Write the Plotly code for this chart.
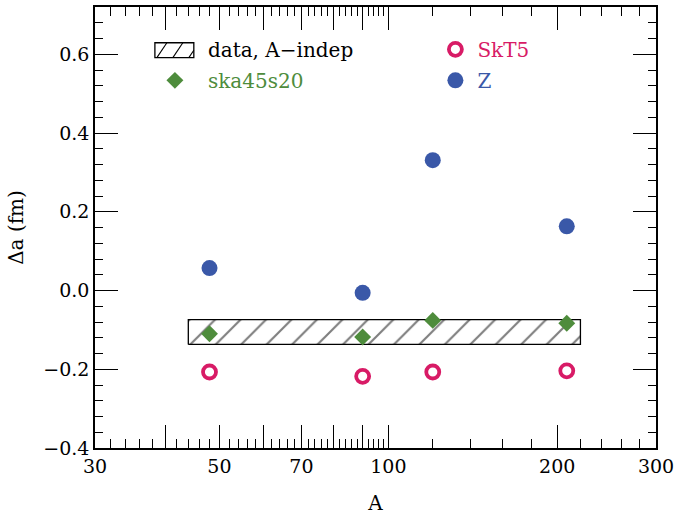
import plotly.graph_objects as go

# ---- data ----
A_nuclei = [48, 90, 120, 208]
skt5 = [-0.207, -0.218, -0.207, -0.204]
ska45s20 = [-0.110, -0.118, -0.076, -0.083]
z_vals = [0.057, -0.006, 0.331, 0.163]

band_A = [44, 220]
band_lo = -0.137
band_hi = -0.074

x_major = [30, 40, 50, 60, 70, 80, 90, 100, 200, 300]
x_major_text = ["30", "", "50", "", "70", "", "", "100", "200", "300"]
x_minor = [v for v in range(32, 100, 2) if v not in x_major] + \
          [v for v in range(120, 300, 20) if v not in x_major]
y_major = [-0.4, -0.2, 0.0, 0.2, 0.4, 0.6]

SERIF = "DejaVu Serif"
GREEN = "#4e8c3c"
BLUE = "#3a58a8"
MAGENTA = "#d81b66"

W, H = 679, 516
ML, MR, MT, MB = 95, 22, 5, 67
PW, PH = W - ML - MR, H - MT - MB


def px(x):
    return (x - ML) / PW


def py(y):
    return (H - MB - y) / PH


fig = go.Figure()

fig.add_trace(go.Scatter(
    x=[band_A[0], band_A[1], band_A[1], band_A[0], band_A[0]],
    y=[band_lo, band_lo, band_hi, band_hi, band_lo],
    mode="lines", fill="toself",
    fillcolor="white",
    fillpattern=dict(shape="/", fgcolor="black", bgcolor="white", size=18, solidity=0.12),
    line=dict(color="black", width=1.3),
    showlegend=False, hoverinfo="skip"))

# legend-only entry for the band (symbol drawn as shapes below)
fig.add_trace(go.Scatter(
    x=[None], y=[None], mode="markers",
    marker=dict(size=1, color="rgba(0,0,0,0)"),
    name="data, A\u2212indep", legend="legend", legendgroup="g1"))

fig.add_trace(go.Scatter(
    x=A_nuclei, y=skt5, mode="markers",
    marker=dict(symbol="circle-open", size=13, color=MAGENTA, line=dict(width=3.8, color=MAGENTA)),
    name=f"<span style='color:{MAGENTA}'>SkT5</span>", legend="legend2", legendgroup="g3"))

fig.add_trace(go.Scatter(
    x=A_nuclei, y=ska45s20, mode="markers",
    marker=dict(symbol="diamond", size=13, color=GREEN),
    name=f"<span style='color:{GREEN}'>ska45s20</span>", legend="legend", legendgroup="g2"))

fig.add_trace(go.Scatter(
    x=A_nuclei, y=z_vals, mode="markers",
    marker=dict(symbol="circle", size=16, color=BLUE),
    name=f"<span style='color:{BLUE}'>Z</span>", legend="legend2", legendgroup="g4"))

axis_common = dict(
    showline=True, linecolor="black", linewidth=1.5, mirror="ticks",
    ticks="inside", tickcolor="black", tickwidth=1.2, ticklen=23,
    showgrid=False, zeroline=False,
    tickfont=dict(family=SERIF, size=19, color="black"),
)

fig.update_xaxes(
    type="log", range=[1.4771213, 2.4771213],
    tickmode="array", tickvals=x_major, ticktext=x_major_text,
    minor=dict(tickmode="array", tickvals=x_minor, ticks="inside", ticklen=9,
               tickcolor="black", tickwidth=1.2, showgrid=False),
    title=dict(text="A", font=dict(family=SERIF, size=20, color="black"), standoff=20),
    **axis_common)

fig.update_yaxes(
    range=[-0.4, 0.72],
    tickmode="array", tickvals=y_major, tickformat=".1f",
    minor=dict(dtick=0.04, tick0=-0.4, ticks="inside", ticklen=8,
               tickcolor="black", tickwidth=1.2, showgrid=False),
    title=dict(text="\u0394a (fm)", font=dict(family=SERIF, size=20, color="black"), standoff=14),
    **axis_common)

# hatched legend symbol box
box_l, box_r, box_t, box_b = 155, 194, 41, 56
shapes = [dict(type="rect", xref="paper", yref="paper",
               x0=px(box_l), x1=px(box_r), y0=py(box_b), y1=py(box_t),
               line=dict(color="black", width=1.3), fillcolor="white", layer="above")]
for bx in (157, 173, 189):
    x_end = min(bx + 10, box_r)
    y_end = box_b - (x_end - bx) * 1.5
    shapes.append(dict(type="line", xref="paper", yref="paper",
                       x0=px(bx), y0=py(box_b), x1=px(x_end), y1=py(y_end),
                       line=dict(color="black", width=1.1), layer="above"))

fig.update_layout(
    width=W, height=H,
    margin=dict(l=ML, r=MR, t=MT, b=MB),
    paper_bgcolor="white", plot_bgcolor="white",
    showlegend=True,
    shapes=shapes,
    legend=dict(x=px(142), y=py(28), orientation="v", bgcolor="rgba(0,0,0,0)",
                borderwidth=0, font=dict(family=SERIF, size=20, color="black"),
                tracegroupgap=2, itemwidth=56, xanchor="left", yanchor="top"),
    legend2=dict(x=px(434), y=py(28), orientation="v", bgcolor="rgba(0,0,0,0)",
                 borderwidth=0, font=dict(family=SERIF, size=20, color="black"),
                 tracegroupgap=2, itemwidth=34, xanchor="left", yanchor="top"),
)

fig.write_html("out.html")
